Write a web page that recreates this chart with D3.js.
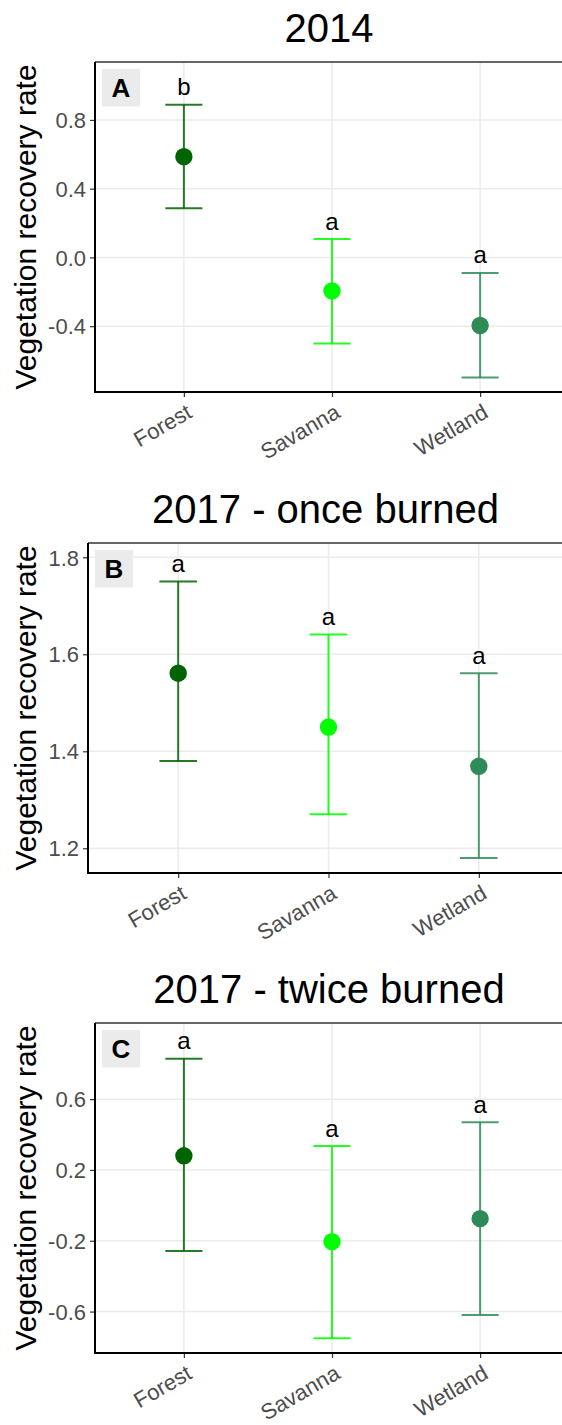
<!DOCTYPE html>
<html>
<head>
<meta charset="utf-8">
<script src="https://cdn.jsdelivr.net/npm/d3@7"></script>
<style>
  html, body { margin: 0; padding: 0; background: #ffffff; }
  svg { display: block; }
  text { font-family: "Liberation Sans", Arial, sans-serif; }
</style>
</head>
<body>
<svg id="chart" width="562" height="1425"></svg>
<script>
// ---------- data ----------
const categories = ["Forest", "Savanna", "Wetland"];
const colors = ["#006400", "#00ff00", "#2e8b57"];

const titles = ["2014", "2017 - once burned", "2017 - twice burned"];
const panelLetters = ["A", "B", "C"];

const meanA  = [0.586, -0.195, -0.396];
const lowerA = [0.286, -0.501, -0.699];
const upperA = [0.889,  0.107, -0.090];
const lettersA = ["b", "a", "a"];
const ticksA = [-0.4, 0.0, 0.4, 0.8];
const tickLabelsA = ["-0.4", "0.0", "0.4", "0.8"];

const meanB  = [1.561, 1.450, 1.369];
const lowerB = [1.380, 1.270, 1.180];
const upperB = [1.750, 1.641, 1.561];
const lettersB = ["a", "a", "a"];
const ticksB = [1.2, 1.4, 1.6, 1.8];
const tickLabelsB = ["1.2", "1.4", "1.6", "1.8"];

const meanC  = [0.280, -0.205, -0.075];
const lowerC = [-0.258, -0.750, -0.619];
const upperC = [0.828, 0.335, 0.470];
const lettersC = ["a", "a", "a"];
const ticksC = [-0.6, -0.2, 0.2, 0.6];
const tickLabelsC = ["-0.6", "-0.2", "0.2", "0.6"];

const yTitle = "Vegetation recovery rate";

// ---------- layout ----------
const panels = [
  { mean: meanA, lower: lowerA, upper: upperA, letters: lettersA, ticks: ticksA, tickLabels: tickLabelsA,
    domain: [-0.783, 1.137], left: 95, top: 62, bottom: 392, titleY: 42 },
  { mean: meanB, lower: lowerB, upper: upperB, letters: lettersB, ticks: ticksB, tickLabels: tickLabelsB,
    domain: [1.149, 1.8295], left: 88, top: 543, bottom: 873, titleY: 523 },
  { mean: meanC, lower: lowerC, upper: upperC, letters: lettersC, ticks: ticksC, tickLabels: tickLabelsC,
    domain: [-0.834, 1.030], left: 95, top: 1023, bottom: 1353, titleY: 1003 }
];
const panelRight = 569;

const svg = d3.select("#chart");

panels.forEach((p, pi) => {
  const g = svg.append("g");
  const x = d3.scalePoint().domain(categories).range([p.left, panelRight]).padding(0.6);
  const step = x.step();
  const y = d3.scaleLinear().domain(p.domain).range([p.bottom, p.top]);

  // grid lines
  g.append("g").selectAll("line.h").data(p.ticks).join("line")
    .attr("x1", p.left).attr("x2", panelRight)
    .attr("y1", d => y(d)).attr("y2", d => y(d))
    .attr("stroke", "#ebebeb").attr("stroke-width", 1.5);
  g.append("g").selectAll("line.v").data(categories).join("line")
    .attr("x1", d => x(d)).attr("x2", d => x(d))
    .attr("y1", p.top).attr("y2", p.bottom)
    .attr("stroke", "#ebebeb").attr("stroke-width", 1.5);

  // top border
  g.append("line").attr("x1", p.left).attr("x2", panelRight)
    .attr("y1", p.top).attr("y2", p.top)
    .attr("stroke", "#333333").attr("stroke-width", 1.5);

  // y axis
  const yAxis = d3.axisLeft(y).tickValues(p.ticks)
    .tickFormat((d, i) => p.tickLabels[i]).tickSize(5).tickPadding(4);
  const ya = g.append("g").attr("transform", `translate(${p.left},0)`).call(yAxis);
  ya.select(".domain").remove();
  ya.selectAll(".tick line").attr("stroke", "#333333").attr("stroke-width", 1.2);
  ya.selectAll(".tick text").attr("fill", "#4d4d4d").attr("font-size", 22)
    .attr("font-family", "Liberation Sans, Arial, sans-serif").attr("dy", "0.35em");

  // x axis
  const xAxis = d3.axisBottom(x).tickSize(5).tickFormat("");
  const xa = g.append("g").attr("transform", `translate(0,${p.bottom})`).call(xAxis);
  xa.select(".domain").remove();
  xa.selectAll(".tick line").attr("stroke", "#333333").attr("stroke-width", 1.2);
  g.append("g").selectAll("text").data(categories).join("text")
    .attr("transform", d => `translate(${x(d) + 9.5},${p.bottom + 24.5}) rotate(-30)`)
    .attr("text-anchor", "end")
    .attr("font-size", 22).attr("fill", "#4d4d4d")
    .text(d => d);

  // axis lines
  g.append("line").attr("x1", p.left).attr("x2", p.left)
    .attr("y1", p.top).attr("y2", p.bottom + 1)
    .attr("stroke", "#000").attr("stroke-width", 2);
  g.append("line").attr("x1", p.left - 1).attr("x2", panelRight)
    .attr("y1", p.bottom).attr("y2", p.bottom)
    .attr("stroke", "#000").attr("stroke-width", 2);

  // error bars
  const bars = g.append("g");
  categories.forEach((c, i) => {
    const cx = x(c);
    bars.append("line").attr("x1", cx).attr("x2", cx)
      .attr("y1", y(p.lower[i])).attr("y2", y(p.upper[i]))
      .attr("stroke", colors[i]).attr("stroke-width", 2).attr("stroke-opacity", 0.85);
    [p.lower[i], p.upper[i]].forEach(v => {
      bars.append("line").attr("x1", cx - step * 0.125).attr("x2", cx + step * 0.125)
        .attr("y1", y(v)).attr("y2", y(v))
        .attr("stroke", colors[i]).attr("stroke-width", 2).attr("stroke-opacity", 0.85);
    });
  });

  // points
  g.append("g").selectAll("circle").data(categories).join("circle")
    .attr("cx", d => x(d)).attr("cy", (d, i) => y(p.mean[i]))
    .attr("r", 8.7).attr("fill", (d, i) => colors[i]);

  // significance letters
  g.append("g").selectAll("text").data(categories).join("text")
    .attr("x", d => x(d)).attr("y", (d, i) => y(p.upper[i]) - 9.5)
    .attr("text-anchor", "middle").attr("font-size", 24).attr("fill", "#000")
    .text((d, i) => p.letters[i]);

  // panel letter box
  g.append("rect").attr("x", p.left + 7).attr("y", p.top + 7)
    .attr("width", 38).attr("height", 37.5).attr("fill", "#ebebeb");
  g.append("text").attr("x", p.left + 26).attr("y", p.top + 7 + 28)
    .attr("text-anchor", "middle").attr("font-size", 26).attr("font-weight", "bold")
    .attr("fill", "#000").text(panelLetters[pi]);

  // title
  g.append("text").attr("x", (p.left + panelRight) / 2 - 3).attr("y", p.titleY)
    .attr("text-anchor", "middle").attr("font-size", 40).attr("fill", "#000")
    .text(titles[pi]);

  // y title
  g.append("text")
    .attr("transform", `translate(36,${(p.top + p.bottom) / 2}) rotate(-90)`)
    .attr("text-anchor", "middle").attr("font-size", 30).attr("fill", "#000")
    .text(yTitle);
});
</script>
</body>
</html>
